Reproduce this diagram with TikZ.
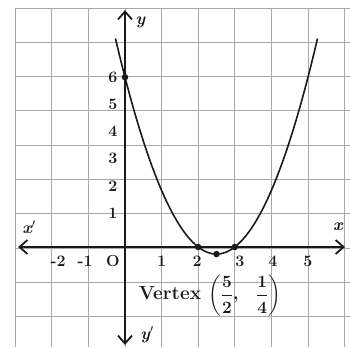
\documentclass[tikz,border=0pt]{standalone}
\usepackage{tikz}
\usepackage{amsmath}
\usetikzlibrary{arrows.meta, positioning, calc}
\definecolor{gridgray}{HTML}{A8A8A8}
\definecolor{inkblack}{HTML}{1A1A1A}
\tikzset{
  gridline/.style={draw=gridgray, line width=0.7pt},
  axisline/.style={draw=inkblack, line width=1.8pt, {Straight Barb[length=8pt,width=14pt]}-{Straight Barb[length=8pt,width=14pt]}},
  curveline/.style={draw=inkblack, line width=1.6pt},
  ticklabel/.style={font=\fontsize{16}{18}\selectfont\bfseries, text=inkblack, inner sep=0pt},
  axislabel/.style={font=\fontsize{17}{19}\selectfont\itshape\bfseries, text=inkblack, inner sep=0pt},
  dot/.style={circle, fill=inkblack, inner sep=0pt, minimum size=6.5pt}
}

\begin{document}
\begin{tikzpicture}[x=36.6pt, y=28.3pt]
          \useasboundingbox (-3.415,-3.534) rectangle (6.148,8.728);

          % Papel cuadriculado
          \foreach \i in {-3,...,6}
            \draw[gridline] (\i,-3.534) -- (\i,8.45);
          \foreach \k in {0,...,9}
            \draw[gridline] (-3,{8.45-1.212*\k}) -- (6.148,{8.45-1.212*\k});

          % Ejes
          \coordinate (xl) at (-2.92,0);
          \coordinate (xr) at (6.01,0);
          \coordinate (yt) at (0,8.37);
          \coordinate (yb) at (0,-3.46);
          \draw[axisline] (xl) -- (xr);
          \draw[axisline] (yb) -- (yt);
          \node[axislabel] (lblx) at (5.82,0.72) {x};
          \node[axislabel] (lblxp) at (-2.62,0.7) {x$'$};
          \node[axislabel] (lbly) at (0.42,7.95) {y};
          \node[axislabel] (lblyp) at (0.6,-3.1) {y$'$};

          % Marcas de los ejes
          \foreach \n/\xx/\lbl in {m2/-1.83/-2, m1/-1.09/-1, o/-0.33/O, p1/1.0/1, p2/1.97/2, p3/3.14/3, p4/4.04/4, p5/5.0/5}
            \node[ticklabel] (tx\n) at (\xx,-0.5) {\lbl};
          \foreach \n in {1,...,6}
            \node[ticklabel] (ty\n) at (-0.33,{0.96*\n+0.24}) {\n};

          % Parabola
          \draw[curveline, domain=-0.26:5.26, samples=80, smooth] plot (\x,{\x*\x-5*\x+6});
          \node[dot] (py) at (0,6) {};
          \node[dot] (r1) at (2,0) {};
          \node[dot] (r2) at (3,0) {};
          \node[dot] (vx) at (2.5,-0.25) {};

          % Vertice
          \node[font=\fontsize{19}{22}\selectfont\bfseries\boldmath, text=inkblack, inner sep=0pt] (vlabel) at (2.32,-1.72)
            {Vertex $\displaystyle\biggl(\frac{5}{2},\ \ \frac{1}{4}\biggr)$};
        \end{tikzpicture}
\end{document}
